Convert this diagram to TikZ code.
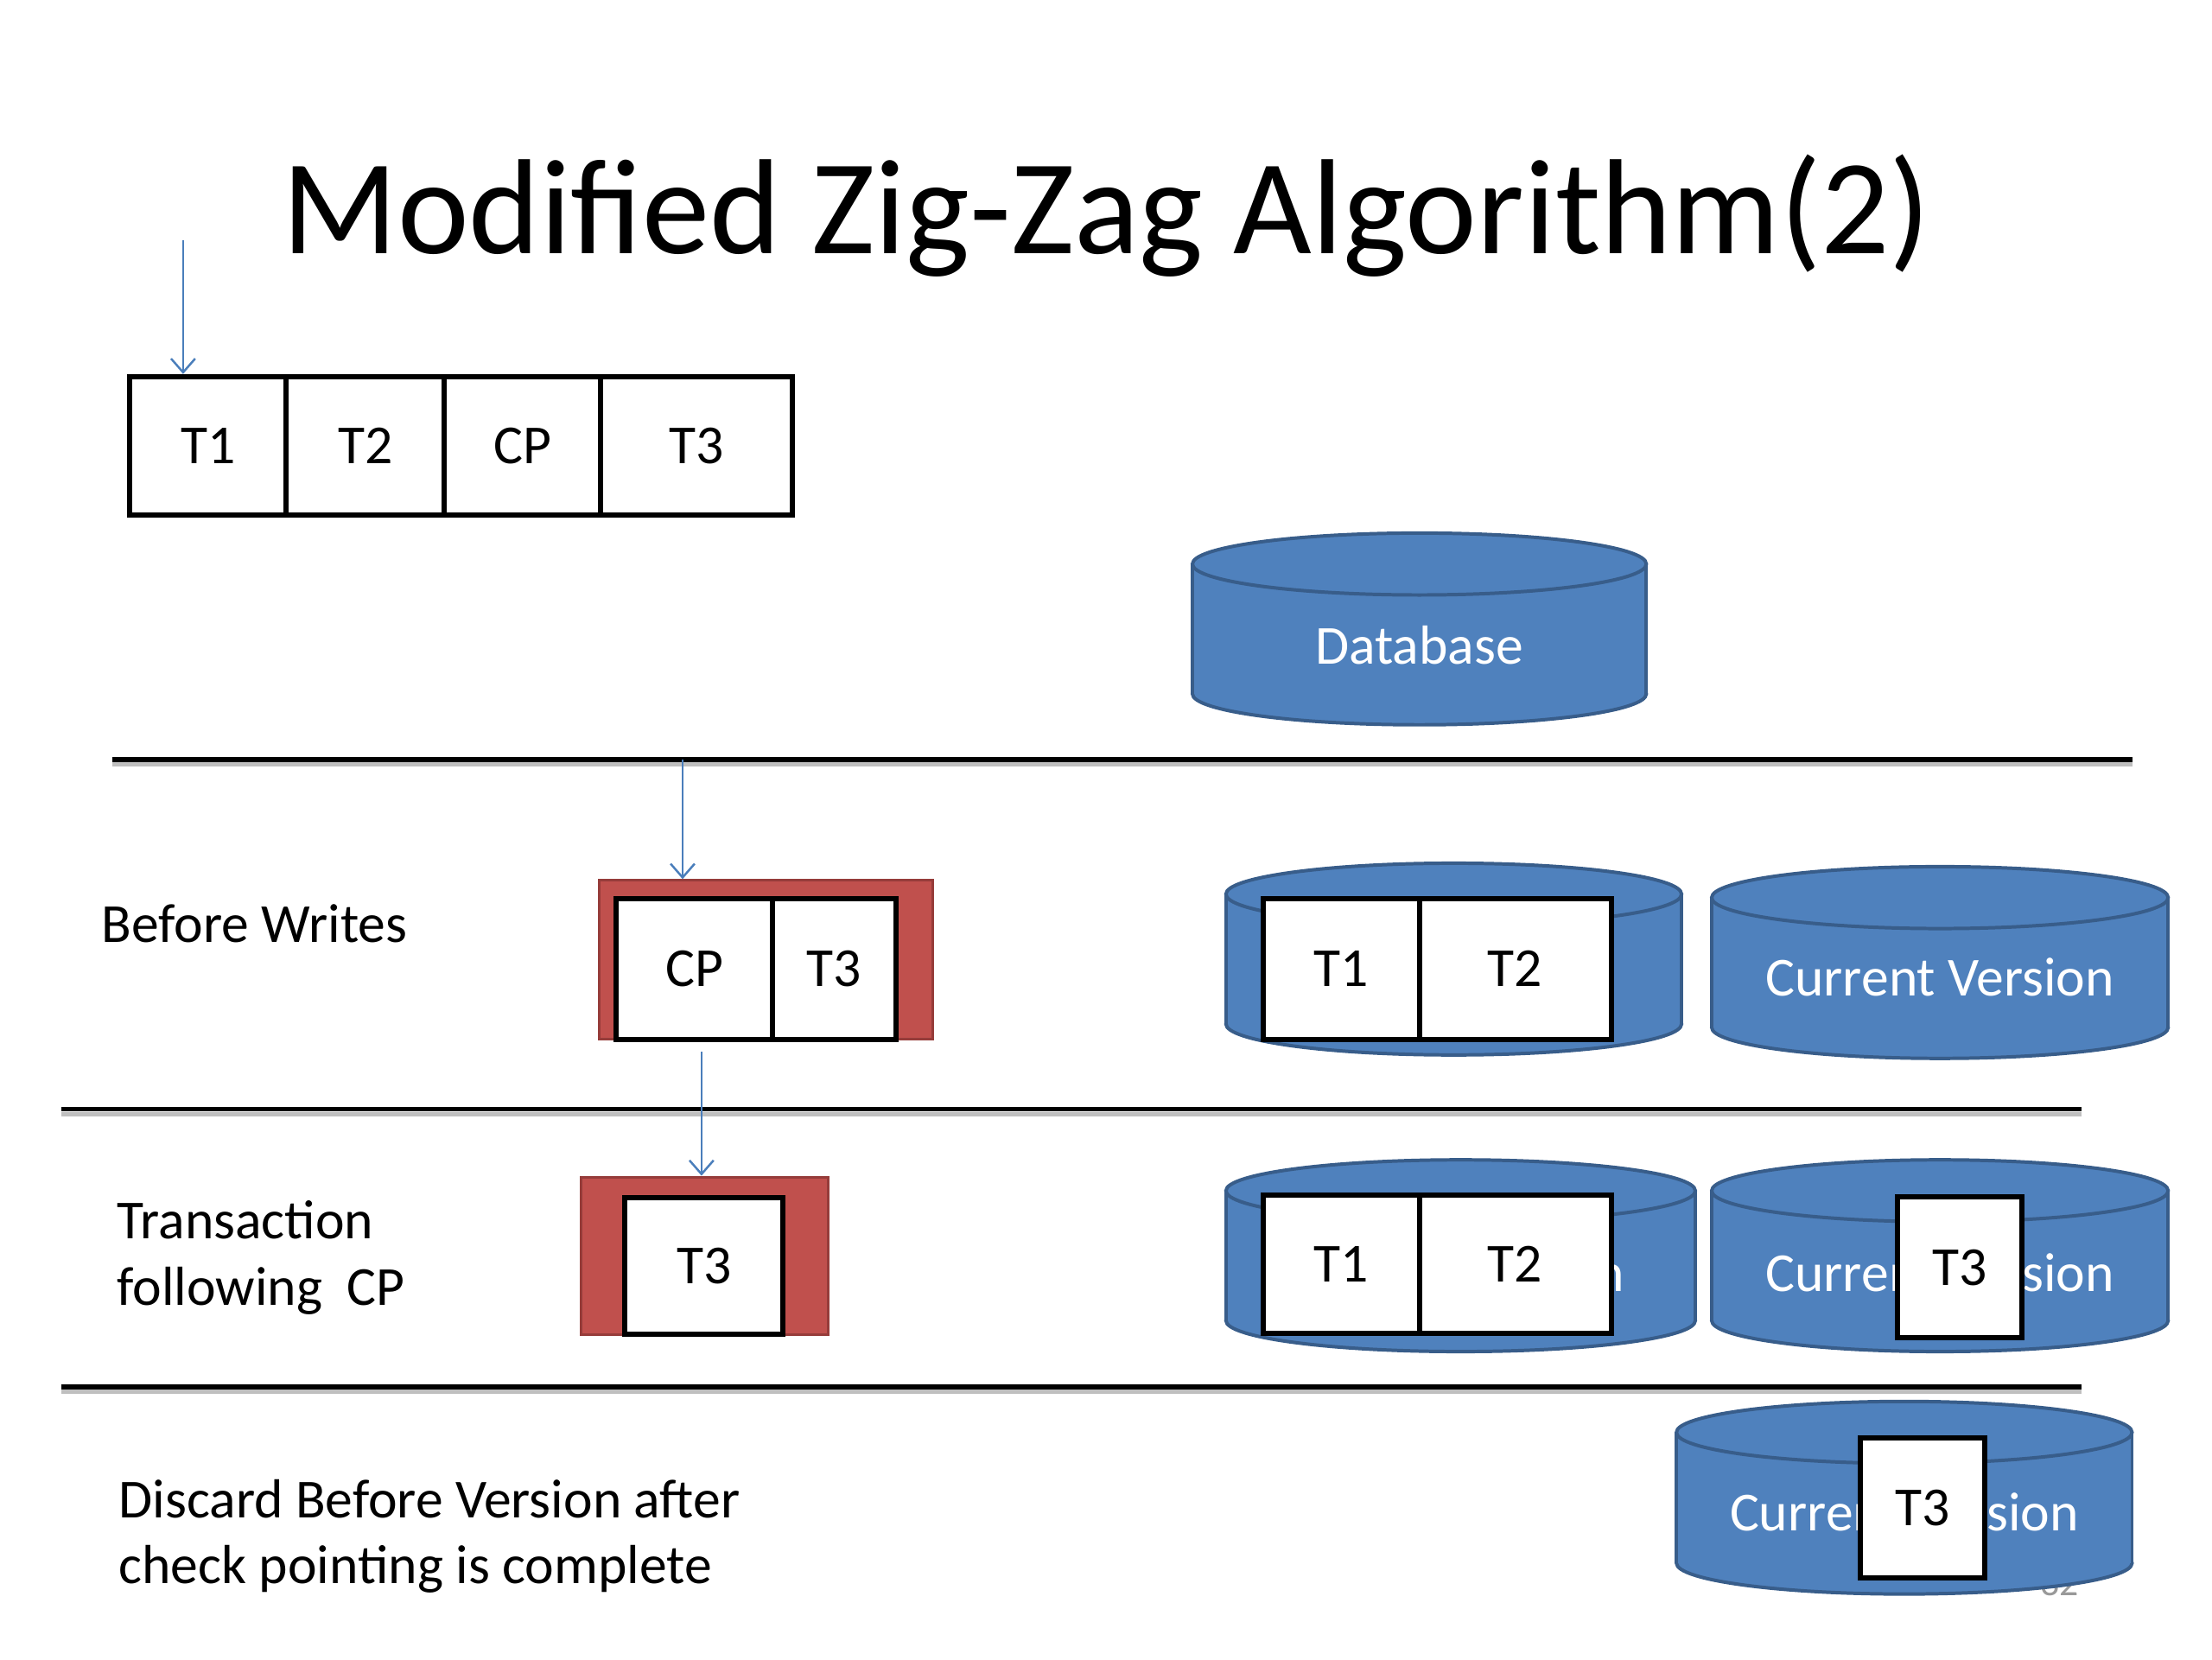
\documentclass[tikz,border=0pt]{standalone}
\usepackage{fontspec}
\setmainfont{Carlito}
\usetikzlibrary{arrows.meta}
\definecolor{dbblue}{RGB}{79,129,189}
\definecolor{dbedge}{RGB}{56,93,138}
\definecolor{rfill}{RGB}{192,80,77}
\definecolor{redge}{RGB}{150,60,58}
\definecolor{arrowblue}{RGB}{74,126,187}
\newcommand{\mycyl}[4]{%
  \pgfmathsetmacro\cxx{(#1+#3)/2}%
  \pgfmathsetmacro\rxx{(#3-#1)/2}%
  \draw[cylline, fill=dbblue] (\cxx, #4-36) ellipse [x radius=\rxx, y radius=36];
  \fill[dbblue] (#1, #2+36) rectangle (#3, #4-36);
  \draw[cylline] (#1, #2+36) -- (#1, #4-36) (#3, #2+36) -- (#3, #4-36);
  \draw[cylline, fill=dbblue] (\cxx, #2+36) ellipse [x radius=\rxx, y radius=36];
}
\begin{document}
\begin{tikzpicture}[x=1pt, y=-1pt,
  cylline/.style={draw=dbedge, line width=4pt},
  tbox/.style={draw=black, line width=6pt, fill=white, inner sep=0pt,
    font=\fontsize{64}{77}\selectfont},
  redbox/.style={draw=redge, line width=3pt, fill=rfill, inner sep=0pt},
  lbl/.style={font=\fontsize{64}{77}\selectfont, inner sep=0pt, align=left},
  cyltext/.style={font=\fontsize{64}{77}\selectfont, text=white, inner sep=0pt},
  flow/.style={draw=arrowblue, line width=2.5pt, -{Straight Barb[length=16pt, width=28pt, line width=2.5pt]}},
  sep/.style={draw=black, line width=6pt},
  sepshadow/.style={draw=black!25, line width=5pt}]
\useasboundingbox[fill=white] (0,0) rectangle (2573,1930);

% title
\node[font=\fontsize{157.5}{180}\selectfont, inner sep=0pt, anchor=base] (title) at (1287,295) {Modified Zig-Zag Algorithm(2)};

% top row log
\node[tbox, minimum width=182pt, minimum height=161pt] (t1) at (242,518.5) {T1};
\node[tbox, minimum width=184pt, minimum height=161pt] (t2) at (425,518.5) {T2};
\node[tbox, minimum width=182pt, minimum height=161pt] (cp) at (608,518.5) {CP};
\node[tbox, minimum width=223pt, minimum height=161pt] (t3) at (810.5,518.5) {T3};
\coordinate (a1) at (213,279);
\draw[flow] (a1) -- (a1 |- t1.north);

% database
\mycyl{1387}{620}{1915}{843}
\node[cyltext] (db) at (1651,750) {Database};

% separators
\coordinate (s1a) at (131,883); \coordinate (s1b) at (2481,883);
\coordinate (s2a) at (71,1290); \coordinate (s2b) at (2421,1290);
\coordinate (s3a) at (71,1613); \coordinate (s3b) at (2421,1613);
\draw[sepshadow] ([yshift=-6pt]s1a) -- ([yshift=-6pt]s1b);
\draw[sepshadow] ([yshift=-6pt]s2a) -- ([yshift=-6pt]s2b);
\draw[sepshadow] ([yshift=-6pt]s3a) -- ([yshift=-6pt]s3b);
\draw[sep] (s1a) -- (s1b);
\draw[sep] (s2a) -- (s2b);
\draw[sep] (s3a) -- (s3b);

% row 1: before writes
\node[lbl, anchor=base west] (bw) at (118,1096) {Before Writes};
\node[redbox, minimum width=388pt, minimum height=185pt] (rb1) at (891,1116.5) {};
\node[tbox, minimum width=182pt, minimum height=164pt] (cp1) at (808,1127) {CP};
\node[tbox, minimum width=143pt, minimum height=164pt] (t31) at (970.5,1127) {T3};
\coordinate (a2) at (794,883);
\draw[flow] (a2) -- (a2 |- rb1.north);

\mycyl{1426}{1004}{1956}{1227}
\node[tbox, minimum width=182pt, minimum height=164pt] (bt1) at (1560,1127) {T1};
\node[tbox, minimum width=223pt, minimum height=164pt] (bt2) at (1762.5,1127) {T2};

\mycyl{1991}{1008}{2522}{1231}
\node[cyltext] (cv1) at (2256.5,1137) {Current Version};

% row 2: transaction following CP
\node[lbl, anchor=base west] (tf) at (136,1518) {Transaction\\following\ \ CP};
\node[redbox, minimum width=287pt, minimum height=183pt] (rb2) at (819.5,1460.5) {};
\node[tbox, minimum width=184pt, minimum height=159pt] (t32) at (819,1472.5) {T3};
\coordinate (a3) at (816,1223);
\draw[flow] (a3) -- (a3 |- rb2.north);

\mycyl{1426}{1349}{1972}{1572}
\node[cyltext] (bv2) at (1700,1480) {Before Version};
\node[tbox, minimum width=182pt, minimum height=161pt] (ct1) at (1560,1470.5) {T1};
\node[tbox, minimum width=223pt, minimum height=161pt] (ct2) at (1762.5,1470.5) {T2};

\mycyl{1991}{1349}{2522}{1572}
\node[cyltext] (cv2) at (2256.5,1480) {Current Version};
\node[tbox, minimum width=145pt, minimum height=164pt] (ct3) at (2279.5,1474) {T3};

% row 3: discard
\node[lbl, anchor=base west] (dc) at (138,1842) {Discard Before Version after\\check pointing is complete};
\node[font=\fontsize{44}{50}\selectfont, text=gray!80, inner sep=0pt] (pg) at (2396,1842) {32};
\mycyl{1950}{1630}{2480}{1854}
\node[cyltext] (cv3) at (2215,1759) {Current Version};
\node[tbox, minimum width=145pt, minimum height=163pt] (dt3) at (2236.5,1753.5) {T3};
\end{tikzpicture}
\end{document}
